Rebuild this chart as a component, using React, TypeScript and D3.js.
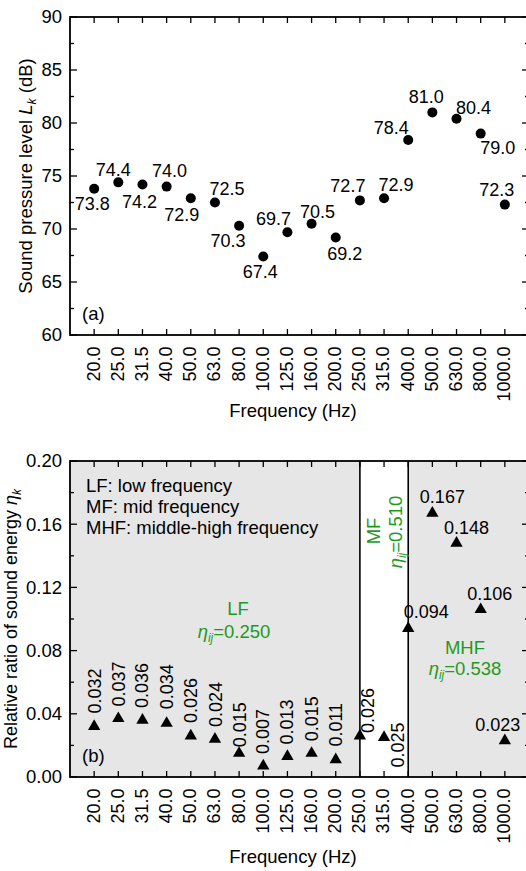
import React, { useEffect, useRef } from 'react'
import * as d3 from 'd3'

// band centre frequencies (Hz)
const frequencies = ['20.0', '25.0', '31.5', '40.0', '50.0', '63.0', '80.0', '100.0', '125.0', '160.0', '200.0', '250.0', '315.0', '400.0', '500.0', '630.0', '800.0', '1000.0']
// (a) sound pressure level, dB
const splValues = [73.8, 74.4, 74.2, 74.0, 72.9, 72.5, 70.3, 67.4, 69.7, 70.5, 69.2, 72.7, 72.9, 78.4, 81.0, 80.4, 79.0, 72.3]
// (b) relative ratio of sound energy
const ratioValues = [0.032, 0.037, 0.036, 0.034, 0.026, 0.024, 0.015, 0.007, 0.013, 0.015, 0.011, 0.026, 0.025, 0.094, 0.167, 0.148, 0.106, 0.023]
const splTicks = [60, 65, 70, 75, 80, 85, 90]
const ratioTicks = [0, 0.04, 0.08, 0.12, 0.16, 0.2]
const bandEdges = ['250.0', '400.0']
const bandNames = ['LF', 'MF', 'MHF']
const bandRatios = ['0.250', '0.510', '0.538']
const legendLines = ['LF: low frequency', 'MF: mid frequency', 'MHF: middle-high frequency']

// label nudges in px (dx, dy) from each marker
const splLabelPos = [[-2, 21], [-5, -6], [-3, 24], [3, -10], [-9, 23], [12, -8], [-11, 21], [-3, 21], [-14, -7], [6, -6], [9, 23], [-12, -8], [12, -7], [-17, -6], [-6, -9], [17, -5], [17, 20], [-8, -9]]
const ratioLabelPos = [[7, -13], [7, -12], [6, -12], [6, -14], [6, -13], [7, -12], [7, -6], [6, -12], [6, -12], [6, -12], [6, -13], [14, -3], [20, 30], [18, -10], [10, -10], [10, -9], [9, -10], [-7, -10]]

const FONT = '"Liberation Sans", Arial, Helvetica, sans-serif'
const GREEN = '#1f9a1f'
const L = 70
const R = 529

function App () {
  const ref = useRef<SVGSVGElement>(null)

  useEffect(() => {
    document.body.style.margin = '0'
    const svg = d3.select(ref.current)
    svg.selectAll('*').remove()
    svg.attr('font-family', FONT)

    const x = d3.scaleLinear().domain([-1, frequencies.length]).range([L, R])
    const yA = d3.scaleLinear().domain([60, 90]).range([335, 17])
    const yB = d3.scaleLinear().domain([0, 0.2]).range([777, 461])

    function axes (y: any, majors: number[], minors: number[], fmt: (d: number) => string, labelTop: number) {
      const [bottom, top] = y.range()
      const g = svg.append('g').attr('stroke', '#000')
      frequencies.forEach((f, i) => {
        g.append('line').attr('x1', x(i)).attr('x2', x(i)).attr('y1', bottom).attr('y2', bottom - 6).attr('stroke-width', 1.3)
        g.append('line').attr('x1', x(i)).attr('x2', x(i)).attr('y1', top).attr('y2', top + 6).attr('stroke-width', 1.3)
      })
      majors.forEach(v => {
        g.append('line').attr('x1', L).attr('x2', L + 7).attr('y1', y(v)).attr('y2', y(v)).attr('stroke-width', 1.3)
        g.append('line').attr('x1', R).attr('x2', R - 7).attr('y1', y(v)).attr('y2', y(v)).attr('stroke-width', 1.3)
      })
      minors.forEach(v => {
        g.append('line').attr('x1', L).attr('x2', L + 4).attr('y1', y(v)).attr('y2', y(v)).attr('stroke-width', 1.3)
        g.append('line').attr('x1', R).attr('x2', R - 4).attr('y1', y(v)).attr('y2', y(v)).attr('stroke-width', 1.3)
      })
      g.append('rect').attr('x', L).attr('y', top).attr('width', R - L).attr('height', bottom - top)
        .attr('fill', 'none').attr('stroke-width', 1.8)

      svg.append('g').selectAll('text').data(majors).enter().append('text')
        .attr('x', 62).attr('y', d => y(d)).attr('dy', '0.35em')
        .attr('text-anchor', 'end').attr('font-size', 18.5).text(d => fmt(d))

      svg.append('g').selectAll('text').data(frequencies).enter().append('text')
        .attr('transform', (d, i) => 'translate(' + x(i) + ',' + labelTop + ') rotate(-90)')
        .attr('dy', '0.3em').attr('text-anchor', 'end').attr('font-size', 18).text(d => d)
    }

    // ---- panel (a)
    axes(yA, splTicks, d3.range(62.5, 90, 5), d => String(d), 346.5)

    svg.append('g').selectAll('circle').data(splValues).enter().append('circle')
      .attr('cx', (d, i) => x(i)).attr('cy', d => yA(d)).attr('r', 5).attr('fill', '#000')

    svg.append('g').selectAll('text').data(splValues).enter().append('text')
      .attr('x', (d, i) => x(i) + splLabelPos[i][0]).attr('y', (d, i) => yA(d) + splLabelPos[i][1])
      .attr('text-anchor', 'middle').attr('font-size', 18).text(d => d.toFixed(1))

    svg.append('text').attr('x', 82).attr('y', 320).attr('font-size', 18.5).text('(a)')
    svg.append('text').attr('x', 293).attr('y', 417).attr('text-anchor', 'middle').attr('font-size', 18.5).text('Frequency (Hz)')

    const tA = svg.append('text').attr('transform', 'translate(31.5,176) rotate(-90)')
      .attr('text-anchor', 'middle').attr('font-size', 18.5)
    tA.append('tspan').text('Sound pressure level ')
    tA.append('tspan').attr('font-style', 'italic').text('L')
    tA.append('tspan').attr('font-style', 'italic').attr('font-size', 12).attr('dy', 4).text('k')
    tA.append('tspan').attr('dy', -4).text(' (dB)')

    // ---- panel (b)
    const e0 = frequencies.indexOf(bandEdges[0])
    const e1 = frequencies.indexOf(bandEdges[1])
    svg.append('rect').attr('x', L).attr('y', yB(0.2)).attr('width', x(e0) - L).attr('height', yB(0) - yB(0.2)).attr('fill', '#e6e6e6')
    svg.append('rect').attr('x', x(e1)).attr('y', yB(0.2)).attr('width', R - x(e1)).attr('height', yB(0) - yB(0.2)).attr('fill', '#e6e6e6')
    ;[e0, e1].forEach(e => {
      svg.append('line').attr('x1', x(e)).attr('x2', x(e)).attr('y1', yB(0.2)).attr('y2', yB(0))
        .attr('stroke', '#000').attr('stroke-width', 1.6)
    })

    axes(yB, ratioTicks, d3.range(0.02, 0.2, 0.04), d => d.toFixed(2), 788.5)

    const tri = d3.symbol().type(d3.symbolTriangle).size(66)
    svg.append('g').selectAll('path').data(ratioValues).enter().append('path')
      .attr('transform', (d, i) => 'translate(' + x(i) + ',' + yB(d) + ')')
      .attr('d', tri).attr('fill', '#000')

    svg.append('g').selectAll('text').data(ratioValues).enter().append('text')
      .attr('transform', (d, i) => {
        const px = x(i) + ratioLabelPos[i][0]
        const py = yB(d) + ratioLabelPos[i][1]
        return i < e1 ? 'translate(' + px + ',' + py + ') rotate(-90)' : 'translate(' + px + ',' + py + ')'
      })
      .attr('text-anchor', (d, i) => i < e1 ? 'start' : 'middle')
      .attr('font-size', 18).text(d => d.toFixed(3))

    legendLines.forEach((t, i) => {
      svg.append('text').attr('x', 86).attr('y', 491.5 + i * 21).attr('font-size', 18.5).text(t)
    })

    function eta (sel: any, val: string) {
      sel.append('tspan').attr('font-style', 'italic').text('η')
      sel.append('tspan').attr('font-style', 'italic').attr('font-size', 12).attr('dy', 4).text('ij')
      sel.append('tspan').attr('dy', -4).text('=' + val)
    }

    const g = svg.append('g').attr('fill', GREEN).attr('font-size', 18.5).attr('text-anchor', 'middle')
    g.append('text').attr('x', 238).attr('y', 615).text(bandNames[0])
    eta(g.append('text').attr('x', 234).attr('y', 638), bandRatios[0])
    g.append('text').attr('transform', 'translate(380,531) rotate(-90)').text(bandNames[1])
    eta(g.append('text').attr('transform', 'translate(401.5,532) rotate(-90)'), bandRatios[1])
    g.append('text').attr('x', 465).attr('y', 654).text(bandNames[2])
    eta(g.append('text').attr('x', 465).attr('y', 675), bandRatios[2])

    svg.append('text').attr('x', 82).attr('y', 762).attr('font-size', 18.5).text('(b)')
    svg.append('text').attr('x', 293).attr('y', 863).attr('text-anchor', 'middle').attr('font-size', 18.5).text('Frequency (Hz)')

    const tB = svg.append('text').attr('transform', 'translate(16.5,619) rotate(-90)')
      .attr('text-anchor', 'middle').attr('font-size', 18)
    tB.append('tspan').text('Relative ratio of sound energy ')
    tB.append('tspan').attr('font-style', 'italic').text('η')
    tB.append('tspan').attr('font-style', 'italic').attr('font-size', 12).attr('dy', 4).text('k')
  }, [])

  return (
    <svg ref={ref} width={526} height={871} style={{ display: 'block', background: '#fff' }} />
  )
}

export default App
